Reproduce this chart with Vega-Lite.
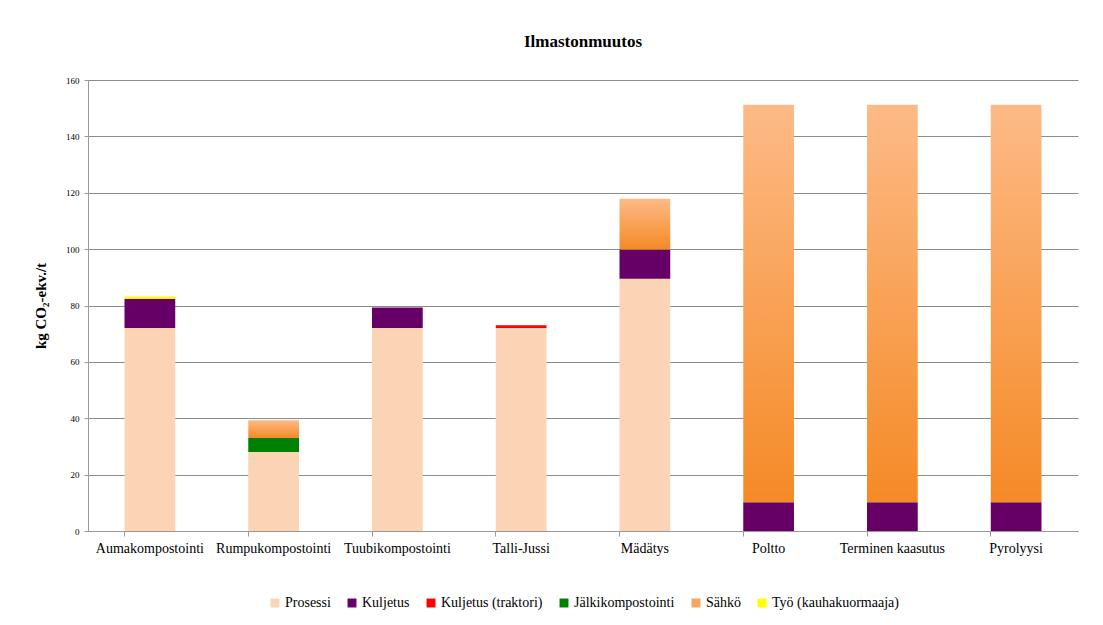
{
  "$schema": "https://vega.github.io/schema/vega-lite/v6.json",
  "autosize": "none",
  "width": 990,
  "height": 451,
  "padding": {"left": 88, "top": 80, "right": 25, "bottom": 94},
  "background": "white",
  "title": {
    "text": "Ilmastonmuutos",
    "font": "Liberation Serif",
    "fontSize": 17,
    "fontWeight": "bold",
    "color": "black",
    "anchor": "middle",
    "offset": 25
  },
  "config": {
    "view": {"stroke": null},
    "font": "Liberation Serif",
    "style": {"guide-label": {"font": "Liberation Serif", "fill": "black"}},
    "legend": {
      "layout": {"bottom": {"anchor": "middle"}},
      "labelFont": "Liberation Serif",
      "labelFontSize": 14,
      "labelColor": "black"
    }
  },
  "datasets": {
    "components": [
      {"component": "Prosessi", "rank": 1},
      {"component": "Kuljetus", "rank": 2},
      {"component": "Kuljetus (traktori)", "rank": 3},
      {"component": "Jälkikompostointi", "rank": 4},
      {"component": "Sähkö", "rank": 5},
      {"component": "Työ (kauhakuormaaja)", "rank": 6}
    ]
  },
  "data": {
    "values": [
      {"category": "Aumakompostointi", "component": "Prosessi", "value": 72},
      {"category": "Aumakompostointi", "component": "Kuljetus", "value": 10.4},
      {"category": "Aumakompostointi", "component": "Työ (kauhakuormaaja)", "value": 0.8},
      {"category": "Rumpukompostointi", "component": "Prosessi", "value": 28},
      {"category": "Rumpukompostointi", "component": "Jälkikompostointi", "value": 5},
      {"category": "Rumpukompostointi", "component": "Sähkö", "value": 6.3},
      {"category": "Tuubikompostointi", "component": "Prosessi", "value": 72},
      {"category": "Tuubikompostointi", "component": "Kuljetus", "value": 7.3},
      {"category": "Talli-Jussi", "component": "Prosessi", "value": 72},
      {"category": "Talli-Jussi", "component": "Kuljetus (traktori)", "value": 1},
      {"category": "Mädätys", "component": "Prosessi", "value": 89.5},
      {"category": "Mädätys", "component": "Kuljetus", "value": 10.4},
      {"category": "Mädätys", "component": "Sähkö", "value": 18},
      {"category": "Poltto", "component": "Kuljetus", "value": 10.2},
      {"category": "Poltto", "component": "Sähkö", "value": 141},
      {"category": "Terminen kaasutus", "component": "Kuljetus", "value": 10.2},
      {"category": "Terminen kaasutus", "component": "Sähkö", "value": 141},
      {"category": "Pyrolyysi", "component": "Kuljetus", "value": 10.2},
      {"category": "Pyrolyysi", "component": "Sähkö", "value": 141}
    ]
  },
  "transform": [
    {"lookup": "component", "from": {"data": {"name": "components"}, "key": "component", "fields": ["rank"]}},
    {"stack": "value", "groupby": ["category"], "sort": [{"field": "rank", "order": "ascending"}], "as": ["v0", "v1"]}
  ],
  "encoding": {
    "x": {
      "field": "category",
      "type": "nominal",
      "sort": ["Aumakompostointi", "Rumpukompostointi", "Tuubikompostointi", "Talli-Jussi", "Mädätys", "Poltto", "Terminen kaasutus", "Pyrolyysi"],
      "scale": {"paddingInner": 0.59, "paddingOuter": 0.295},
      "axis": {
        "title": null,
        "labelAngle": 0,
        "labelFont": "Liberation Serif",
        "labelFontSize": 14,
        "labelColor": "black",
        "labelPadding": 5,
        "bandPosition": 0,
        "domainColor": "#999999",
        "tickColor": "#999999",
        "tickSize": 5
      }
    },
    "y": {
      "field": "v0",
      "type": "quantitative",
      "scale": {"domain": [0, 160]},
      "axis": {
        "title": "kg CO₂-ekv./t",
        "titleFont": "Liberation Serif",
        "titleFontSize": 15,
        "titleFontWeight": "bold",
        "titleColor": "black",
        "titlePadding": 17,
        "values": [0, 20, 40, 60, 80, 100, 120, 140, 160],
        "labelFont": "Liberation Serif",
        "labelFontSize": 9,
        "labelColor": "black",
        "labelPadding": 5,
        "grid": true,
        "gridColor": "#8c8c8c",
        "domainColor": "#999999",
        "tickColor": "#999999",
        "tickSize": 4
      }
    },
    "y2": {"field": "v1"}
  },
  "layer": [
    {
      "transform": [{"filter": "datum.component !== 'Sähkö'"}],
      "mark": {"type": "bar"},
      "encoding": {
        "color": {
          "field": "component",
          "type": "nominal",
          "sort": ["Prosessi", "Kuljetus", "Kuljetus (traktori)", "Jälkikompostointi", "Sähkö", "Työ (kauhakuormaaja)"],
          "scale": {
            "domain": ["Prosessi", "Kuljetus", "Kuljetus (traktori)", "Jälkikompostointi", "Sähkö", "Työ (kauhakuormaaja)"],
            "range": ["#FAD4B4", "#660066", "#FF0000", "#008000", "#F9A463", "#FFFF00"]
          },
          "legend": {
            "title": null,
            "orient": "bottom",
            "direction": "horizontal",
            "symbolType": "square",
            "symbolSize": 80,
            "symbolStrokeWidth": 0,
            "labelFont": "Liberation Serif",
            "labelFontSize": 14,
            "labelColor": "black",
            "labelOffset": 3,
            "columnPadding": 14,
            "offset": 41
          }
        }
      }
    },
    {
      "transform": [{"filter": "datum.component === 'Sähkö'"}],
      "mark": {
        "type": "bar",
        "color": {
          "gradient": "linear",
          "x1": 0, "y1": 1, "x2": 0, "y2": 0,
          "stops": [
            {"offset": 0, "color": "#F58A26"},
            {"offset": 1, "color": "#FDBA86"}
          ]
        }
      }
    }
  ]
}
